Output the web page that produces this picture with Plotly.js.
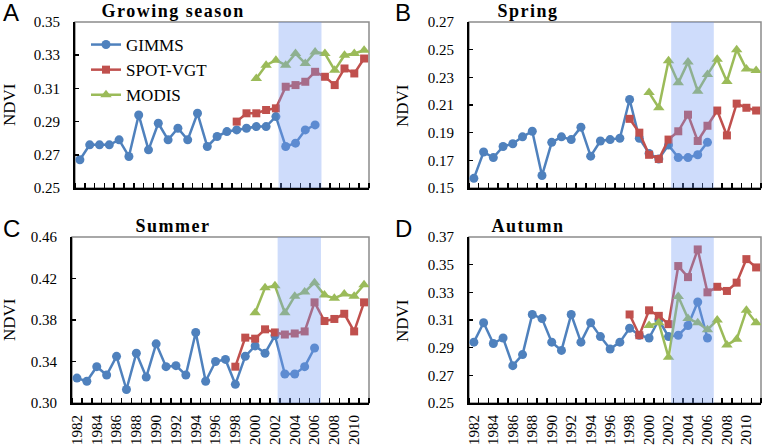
<!DOCTYPE html>
<html>
<head>
<meta charset="utf-8">
<script src="https://cdn.plot.ly/plotly-3.0.1.min.js"></script>
<style>
  html, body { margin: 0; padding: 0; background: #fff; }
  #chart { width: 766px; height: 448px; }
</style>
</head>
<body>
<div id="chart"></div>
<script>
// years for each sensor
const gimmsYears = [1982,1983,1984,1985,1986,1987,1988,1989,1990,1991,1992,1993,1994,1995,1996,1997,1998,1999,2000,2001,2002,2003,2004,2005,2006];
const spotYears  = [1998,1999,2000,2001,2002,2003,2004,2005,2006,2007,2008,2009,2010,2011];
const modisYears = [2000,2001,2002,2003,2004,2005,2006,2007,2008,2009,2010,2011];
const yearLabels = [1982,1984,1986,1988,1990,1992,1994,1996,1998,2000,2002,2004,2006,2008,2010];

// A - Growing season
const gimmsGrow = [0.267,0.276,0.276,0.276,0.279,0.269,0.294,0.273,0.289,0.279,0.286,0.279,0.295,0.275,0.281,0.284,0.285,0.286,0.287,0.287,0.293,0.275,0.277,0.285,0.288];
const spotGrow  = [0.290,0.295,0.295,0.297,0.298,0.311,0.312,0.314,0.320,0.317,0.312,0.322,0.319,0.328];
const modisGrow = [0.316,0.324,0.327,0.324,0.331,0.325,0.332,0.331,0.321,0.330,0.331,0.333];

// B - Spring
const gimmsSpring = [0.157,0.176,0.172,0.180,0.182,0.187,0.191,0.159,0.183,0.187,0.185,0.194,0.173,0.184,0.185,0.186,0.214,0.186,0.175,0.171,0.181,0.172,0.172,0.174,0.183];
const spotSpring  = [0.200,0.190,0.174,0.171,0.185,0.191,0.203,0.184,0.195,0.206,0.188,0.211,0.208,0.206];
const modisSpring = [0.219,0.208,0.242,0.226,0.241,0.220,0.232,0.243,0.227,0.250,0.236,0.235];

// C - Summer
const gimmsSummer = [0.324,0.321,0.335,0.327,0.345,0.313,0.348,0.325,0.357,0.335,0.336,0.327,0.368,0.321,0.340,0.342,0.318,0.345,0.355,0.348,0.365,0.328,0.328,0.335,0.353];
const spotSummer  = [0.335,0.363,0.362,0.371,0.368,0.366,0.367,0.369,0.397,0.379,0.381,0.386,0.369,0.397];
const modisSummer = [0.387,0.411,0.413,0.387,0.403,0.407,0.416,0.404,0.401,0.405,0.403,0.414];

// D - Autumn
const gimmsAutumn = [0.294,0.308,0.293,0.297,0.277,0.285,0.314,0.311,0.294,0.288,0.314,0.294,0.308,0.298,0.289,0.294,0.304,0.299,0.297,0.310,0.298,0.299,0.306,0.323,0.297];
const spotAutumn  = [0.314,0.299,0.317,0.313,0.307,0.349,0.341,0.361,0.330,0.334,0.331,0.337,0.354,0.348];
const modisAutumn = [0.306,0.308,0.283,0.327,0.311,0.308,0.303,0.310,0.292,0.296,0.317,0.308];

const panels = [
  {name: 'Growing season', letter: 'A', g: gimmsGrow,   s: spotGrow,   m: modisGrow,   range: [0.25, 0.35], dtick: 0.02},
  {name: 'Spring',         letter: 'B', g: gimmsSpring, s: spotSpring, m: modisSpring, range: [0.15, 0.27], dtick: 0.02},
  {name: 'Summer',         letter: 'C', g: gimmsSummer, s: spotSummer, m: modisSummer, range: [0.30, 0.46], dtick: 0.04},
  {name: 'Autumn',         letter: 'D', g: gimmsAutumn, s: spotAutumn, m: modisAutumn, range: [0.25, 0.37], dtick: 0.02}
];

const W = 766, H = 448;
// plot boxes in pixels [left, right, top, bottom]
const boxes = [[75, 369, 22, 188], [469, 761, 22, 188], [72, 369, 237, 403], [469, 761, 237, 403]];

const cBlue = '#4f81bd', cRed = '#c0504d', cGreen = '#9bbb59';
const serif = 'Liberation Serif, Times New Roman, serif';

// minor tick positions at category boundaries
const bounds = [];
for (let i = 0; i <= 30; i++) bounds.push(1981.5 + i);

const data = [];
const layout = {
  width: W, height: H,
  margin: {l: 0, r: 0, t: 0, b: 0},
  paper_bgcolor: '#fff', plot_bgcolor: '#fff',
  showlegend: true,
  legend: {
    x: 86 / W, y: 1 - 27 / H, xanchor: 'left', yanchor: 'top',
    bgcolor: 'rgba(0,0,0,0)', font: {family: serif, size: 17, color: '#000'},
    tracegroupgap: 0, itemwidth: 30
  },
  shapes: [], annotations: []
};

panels.forEach((p, i) => {
  const n = i + 1;
  const xa = 'x' + (n === 1 ? '' : n), ya = 'y' + (n === 1 ? '' : n);
  const b = boxes[i];
  const first = i === 0;

  data.push({x: gimmsYears, y: p.g, xaxis: xa, yaxis: ya, name: 'GIMMS', mode: 'lines+markers',
    line: {color: cBlue, width: 2.5}, marker: {symbol: 'circle', size: 9, color: cBlue}, showlegend: first});
  data.push({x: spotYears, y: p.s, xaxis: xa, yaxis: ya, name: 'SPOT-VGT', mode: 'lines+markers',
    line: {color: cRed, width: 2.5}, marker: {symbol: 'square', size: 8, color: cRed}, showlegend: first});
  data.push({x: modisYears, y: p.m, xaxis: xa, yaxis: ya, name: 'MODIS', mode: 'lines+markers',
    line: {color: cGreen, width: 2.5}, marker: {symbol: 'triangle-up', size: 10, color: cGreen}, showlegend: first});

  const bottomRow = i >= 2;
  layout['xaxis' + (n === 1 ? '' : n)] = {
    domain: [b[0] / W, b[1] / W], anchor: ya,
    range: [1981.5, 2011.5], showgrid: false, zeroline: false,
    showline: true, linecolor: '#000', linewidth: 2,
    tickmode: 'array', tickvals: yearLabels, ticktext: yearLabels.map(String),
    ticks: '', showticklabels: bottomRow, tickangle: -90,
    ticklabelstandoff: 4,
    tickfont: {family: serif, size: 15, color: '#000'},
    minor: {tickmode: 'array', tickvals: bounds, ticks: 'inside', ticklen: 5, tickwidth: 1.5, tickcolor: '#000'}
  };
  layout['yaxis' + (n === 1 ? '' : n)] = {
    domain: [1 - b[3] / H, 1 - b[2] / H], anchor: xa,
    range: p.range, dtick: p.dtick, tick0: p.range[0], tickformat: '.2f',
    showgrid: false, zeroline: false,
    showline: true, linecolor: '#000', linewidth: 2,
    ticks: 'inside', ticklen: 4, tickwidth: 1.5, tickcolor: '#000',
    ticklabelstandoff: 10,
    tickfont: {family: serif, size: 15, color: '#000'}
  };

  // grey frame on top and right
  layout.shapes.push({type: 'rect', xref: xa + ' domain', yref: ya + ' domain', x0: 0, x1: 1, y0: 0, y1: 1,
    line: {color: '#8c8c8c', width: 1.5}, layer: 'below'});
  // shaded 2003-2006 period
  layout.shapes.push({type: 'rect', xref: xa, yref: ya + ' domain', x0: 2002.27, x1: 2006.65, y0: 0, y1: 1,
    fillcolor: 'rgba(120,158,245,0.36)', line: {width: 0}, layer: 'above'});

  const left = i % 2 === 0;
  const titleX = left ? 173 : 528;
  const rowTop = bottomRow ? 215 : 0;
  layout.annotations.push({text: '<b>' + p.name + '</b>', xref: 'paper', yref: 'paper',
    x: titleX / W, y: 1 - (rowTop + 11) / H, xanchor: 'center', yanchor: 'middle', showarrow: false,
    font: {family: serif, size: 18, color: '#000'}});
  layout.annotations.push({text: p.letter, xref: 'paper', yref: 'paper',
    x: (left ? 11 : 403) / W, y: 1 - (rowTop + 13) / H, xanchor: 'center', yanchor: 'middle', showarrow: false,
    font: {family: 'Liberation Sans, Arial, sans-serif', size: 24, color: '#000'}});
  layout.annotations.push({text: 'NDVI', xref: 'paper', yref: 'paper', textangle: -90,
    x: (left ? 9 : 402) / W, y: 1 - ((b[2] + b[3]) / 2) / H, xanchor: 'center', yanchor: 'middle', showarrow: false,
    font: {family: serif, size: 17, color: '#000'}});
});

Plotly.newPlot('chart', data, layout, {displayModeBar: false, staticPlot: true}).then(() => {
  // widen the panel titles a little, like the original
  document.querySelectorAll('#chart .annotation-text').forEach(t => {
    if (/season|Spring|Summer|Autumn/.test(t.textContent)) t.style.letterSpacing = '1.5px';
  });
});
</script>
</body>
</html>
